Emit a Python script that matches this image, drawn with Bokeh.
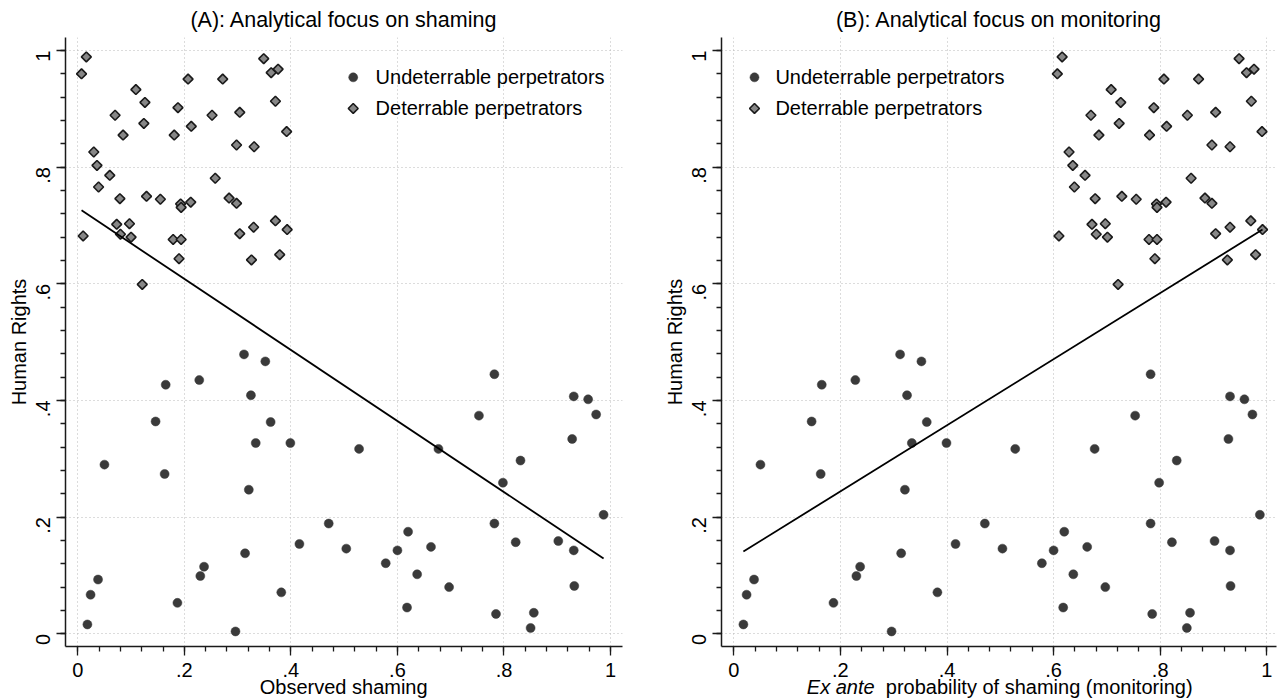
import math
from bokeh.plotting import figure
from bokeh.models import Range1d, FixedTicker, Div
from bokeh.core.properties import value
from bokeh.layouts import row, column
from bokeh.embed import file_html
from bokeh.resources import INLINE

# ---------------- data ----------------
tick_values = [0, 0.2, 0.4, 0.6, 0.8, 1.0]
tick_labels = ["0", ".2", ".4", ".6", ".8", "1"]
legend_labels = ["Undeterrable perpetrators", "Deterrable perpetrators"]

# Undeterrable perpetrators (same in both panels)
und_x = [0.018, 0.024, 0.038, 0.050, 0.165, 0.146, 0.163, 0.187, 0.228, 0.230,
         0.237, 0.296, 0.312, 0.352, 0.325, 0.362, 0.334, 0.399, 0.321, 0.314,
         0.382, 0.416, 0.471, 0.504, 0.528, 0.578, 0.600, 0.618, 0.620, 0.663,
         0.637, 0.697, 0.677, 0.753, 0.782, 0.798, 0.782, 0.822, 0.831, 0.785,
         0.856, 0.850, 0.902, 0.931, 0.932, 0.928, 0.931, 0.958, 0.973, 0.987]
und_y = [0.016, 0.067, 0.093, 0.290, 0.427, 0.364, 0.274, 0.053, 0.435, 0.099,
         0.115, 0.004, 0.479, 0.467, 0.409, 0.363, 0.327, 0.327, 0.247, 0.138,
         0.071, 0.154, 0.189, 0.146, 0.317, 0.121, 0.143, 0.045, 0.175, 0.149,
         0.102, 0.080, 0.317, 0.374, 0.445, 0.259, 0.189, 0.157, 0.297, 0.034,
         0.036, 0.010, 0.159, 0.143, 0.082, 0.334, 0.407, 0.402, 0.376, 0.204]

# Deterrable perpetrators
det_y = [0.960, 0.989, 0.933, 0.911, 0.889, 0.875, 0.855, 0.902, 0.855, 0.951,
         0.870, 0.951, 0.889, 0.894, 0.838, 0.835, 0.986, 0.962, 0.968, 0.913,
         0.861, 0.826, 0.803, 0.786, 0.766, 0.746, 0.750, 0.745, 0.737, 0.731,
         0.740, 0.781, 0.747, 0.738, 0.702, 0.703, 0.685, 0.680, 0.682, 0.676,
         0.676, 0.643, 0.686, 0.697, 0.708, 0.693, 0.641, 0.650, 0.599]
# (A) observed shaming
det_x_shaming = [0.007, 0.016, 0.109, 0.126, 0.070, 0.124, 0.085, 0.188, 0.181, 0.207,
                 0.213, 0.272, 0.252, 0.304, 0.298, 0.331, 0.349, 0.363, 0.376, 0.371,
                 0.392, 0.030, 0.036, 0.060, 0.039, 0.079, 0.129, 0.155, 0.193, 0.194,
                 0.212, 0.258, 0.284, 0.298, 0.073, 0.097, 0.080, 0.100, 0.010, 0.179,
                 0.194, 0.190, 0.304, 0.330, 0.371, 0.393, 0.326, 0.379, 0.121]
# (B) ex ante probability of shaming (monitoring)
det_x_monitor = [0.607, 0.616, 0.708, 0.726, 0.670, 0.723, 0.685, 0.788, 0.780, 0.807,
                 0.812, 0.872, 0.851, 0.904, 0.897, 0.931, 0.948, 0.962, 0.976, 0.971,
                 0.991, 0.629, 0.636, 0.659, 0.639, 0.678, 0.728, 0.755, 0.793, 0.794,
                 0.811, 0.858, 0.884, 0.897, 0.672, 0.697, 0.680, 0.701, 0.610, 0.779,
                 0.794, 0.790, 0.904, 0.931, 0.970, 0.992, 0.926, 0.979, 0.721]

# fitted lines (end points)
fit_shaming_x = [0.007, 0.987]
fit_shaming_y = [0.726, 0.129]
fit_monitor_x = [0.018, 0.992]
fit_monitor_y = [0.141, 0.693]

FONT = "Liberation Sans"
INK = "#1a1a1a"
CIRC = "#3a3a3a"
DIAM = "#878787"
minor = [round(i * 0.04, 2) for i in range(26)]
LEG_ROWS_Y = [0.954, 0.9006]


def style_axis(ax):
    ax.ticker = FixedTicker(ticks=tick_values, minor_ticks=minor)
    ax.major_label_overrides = dict(zip(tick_values, tick_labels))
    ax.major_label_text_font = FONT
    ax.major_label_text_font_size = "20px"
    ax.major_label_text_color = "black"
    ax.axis_line_color = INK
    ax.axis_line_width = 1.5
    ax.major_tick_line_color = INK
    ax.minor_tick_line_color = INK
    ax.major_tick_line_width = 1.3
    ax.minor_tick_line_width = 1.3
    ax.major_tick_in = 0
    ax.major_tick_out = 9
    ax.minor_tick_in = 0
    ax.minor_tick_out = 5


def make_panel(title, det_x, fit_x, fit_y, width, bl, br, x_end, leg_sym_x, leg_txt_x):
    p = figure(width=width, height=699, output_backend="svg", toolbar_location=None,
               x_range=Range1d(-0.0231, x_end), y_range=Range1d(-0.0218, 1.0223),
               min_border_left=bl, min_border_right=br,
               min_border_top=37, min_border_bottom=53)
    p.outline_line_color = None
    p.background_fill_color = "white"
    p.border_fill_color = None
    p.title.text = title
    p.title.align = "center"
    p.title.text_font = FONT
    p.title.text_font_size = "21.5px"
    p.title.text_font_style = "normal"
    p.title.text_color = "black"
    p.title.standoff = 11

    for g in (p.xgrid, p.ygrid):
        g.grid_line_color = "#b8b8b8"
        g.grid_line_dash = "1 3"
        g.grid_line_width = 1

    style_axis(p.xaxis[0])
    style_axis(p.yaxis[0])
    p.xaxis.major_label_standoff = 7
    p.yaxis.major_label_orientation = math.pi / 2
    p.yaxis.major_label_standoff = 13
    p.yaxis.axis_label = "Human Rights"
    p.yaxis.axis_label_text_font = FONT
    p.yaxis.axis_label_text_font_size = "20px"
    p.yaxis.axis_label_text_font_style = "normal"
    p.yaxis.axis_label_text_color = "black"
    p.yaxis.axis_label_standoff = -3

    p.scatter(und_x, und_y, marker="circle", size=9,
              fill_color=CIRC, line_color=CIRC, line_width=0.5)
    p.scatter(det_x, det_y, marker="square", angle=math.pi / 4, size=7,
              fill_color=DIAM, line_color=INK, line_width=1.6)
    p.line(fit_x, fit_y, line_color="black", line_width=1.8)

    # legend (symbol + label for each series)
    p.scatter([leg_sym_x], [LEG_ROWS_Y[0]], marker="circle", size=9,
              fill_color=CIRC, line_color=CIRC, line_width=0.5)
    p.scatter([leg_sym_x], [LEG_ROWS_Y[1]], marker="square", angle=math.pi / 4, size=7,
              fill_color=DIAM, line_color=INK, line_width=1.6)
    p.text(x=[leg_txt_x, leg_txt_x], y=LEG_ROWS_Y, text=legend_labels,
           text_font=value(FONT), text_font_size="20px", text_color="black",
           text_baseline="middle", text_align="left")
    return p


def xtitle(html, width, pad):
    inner = ('<div style="width:%dpx;box-sizing:border-box;padding-left:%.1fpx;'
             'text-align:center;font-family:\'Liberation Sans\';font-size:20px;'
             'line-height:24px;color:black;white-space:nowrap;">%s</div>' % (width, pad, html))
    return Div(text=inner, width=width, height=24, margin=(-24, 0, 0, 0),
               styles={"position": "relative", "z-index": "10"})


pA = make_panel("(A): Analytical focus on shaming", det_x_shaming, fit_shaming_x,
                fit_shaming_y, 640, 65, 18, 1.0225, 0.517, 0.559)
pB = make_panel("(B): Analytical focus on monitoring", det_x_monitor, fit_monitor_x,
                fit_monitor_y, 637, 81, 1, 1.0182, 0.0388, 0.078)

dA = xtitle("Observed shaming", 640, 47.4)
dB = xtitle("<i>Ex ante</i>&nbsp; probability of shaming (monitoring)", 637, 82.4)

layout = row(column(pA, dA), column(pB, dB))
open("out.html", "w").write(file_html(layout, INLINE))
